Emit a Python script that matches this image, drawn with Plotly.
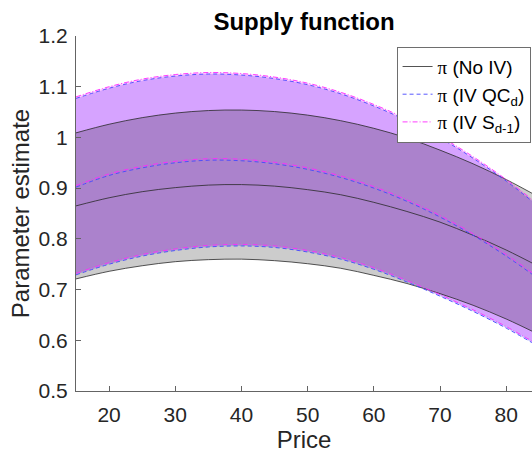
import plotly.graph_objects as go

price = [15, 20, 25, 30, 35, 40, 45, 50, 55, 60, 65, 70, 75, 80, 85]

# No IV
noiv_mean = [0.865, 0.881, 0.893, 0.901, 0.906, 0.907, 0.904, 0.897, 0.887, 0.872, 0.854, 0.833, 0.807, 0.778, 0.745]
noiv_up   = [1.009, 1.026, 1.039, 1.048, 1.053, 1.054, 1.051, 1.044, 1.033, 1.018, 0.999, 0.975, 0.948, 0.917, 0.882]
noiv_lo   = [0.721, 0.736, 0.747, 0.755, 0.759, 0.760, 0.757, 0.751, 0.742, 0.728, 0.712, 0.692, 0.669, 0.642, 0.611]

# IV QC_d
qc_mean = [0.902, 0.925, 0.940, 0.950, 0.955, 0.954, 0.948, 0.937, 0.921, 0.900, 0.874, 0.843, 0.807, 0.766, 0.720]
qc_up   = [1.077, 1.097, 1.112, 1.121, 1.125, 1.123, 1.116, 1.104, 1.086, 1.062, 1.033, 0.999, 0.959, 0.914, 0.863]
qc_lo   = [0.729, 0.750, 0.766, 0.777, 0.784, 0.786, 0.783, 0.774, 0.760, 0.740, 0.715, 0.687, 0.657, 0.624, 0.587]

# IV S_{d-1}
s_mean = [0.905, 0.928, 0.943, 0.953, 0.958, 0.957, 0.951, 0.940, 0.924, 0.903, 0.877, 0.846, 0.810, 0.769, 0.723]
s_up   = [1.080, 1.100, 1.115, 1.124, 1.128, 1.126, 1.119, 1.107, 1.089, 1.065, 1.036, 1.002, 0.962, 0.917, 0.866]
s_lo   = [0.732, 0.753, 0.769, 0.780, 0.787, 0.789, 0.786, 0.777, 0.763, 0.743, 0.718, 0.690, 0.660, 0.627, 0.590]

y_ticks = [0.5, 0.6, 0.7, 0.8, 0.9, 1.0, 1.1, 1.2]
y_ticklabels = ["0.5", "0.6", "0.7", "0.8", "0.9", "1", "1.1", "1.2"]
x_ticks = [20, 30, 40, 50, 60, 70, 80]

BLACK = "rgb(40,40,40)"
BLUE = "rgb(70,70,255)"
MAG = "rgb(255,40,255)"

fig = go.Figure()

def band(lo, up, fill):
    fig.add_trace(go.Scatter(x=price, y=lo, mode="lines", line=dict(width=0, shape="spline"),
                             showlegend=False, hoverinfo="skip"))
    fig.add_trace(go.Scatter(x=price, y=up, mode="lines", line=dict(width=0, shape="spline"),
                             fill="tonexty", fillcolor=fill, showlegend=False, hoverinfo="skip"))

band(qc_lo, qc_up, "rgba(0,0,255,0.2)")
band(s_lo, s_up, "rgba(255,0,255,0.2)")
band(noiv_lo, noiv_up, "rgba(0,0,0,0.2)")

def lines(vals, color, dash, name, width):
    for i, v in enumerate(vals):
        fig.add_trace(go.Scatter(x=price, y=v, mode="lines",
                                 line=dict(color=color, dash=dash, width=width, shape="spline"),
                                 name=name, showlegend=(i == 0), hoverinfo="skip"))

PI = "<span style='font-family:Liberation Serif'>π</span>"
lines([noiv_mean, noiv_up, noiv_lo], BLACK, "solid", PI + " (No IV)", 0.8)
lines([qc_mean, qc_up, qc_lo], BLUE, "4px,3px", PI + " (IV QC<sub>d</sub>)", 0.9)
lines([s_mean, s_up, s_lo], MAG, "5px,2px,1px,2px", PI + " (IV S<sub>d-1</sub>)", 0.9)

fig.update_layout(
    width=532, height=454,
    margin=dict(l=76, r=0, t=36, b=63),
    paper_bgcolor="white", plot_bgcolor="white",
    font=dict(family="Liberation Sans, Arial, sans-serif", color="rgb(38,38,38)", size=21),
    title=dict(text="<b>Supply function</b>", x=0.5715, xanchor="center", y=0.953, yanchor="middle",
               font=dict(size=24, color="black")),
    legend=dict(x=0.703, y=0.97, xanchor="left", yanchor="top", traceorder="normal",
                bgcolor="white", bordercolor="rgb(110,110,110)", borderwidth=1,
                itemwidth=30,
                font=dict(size=19, color="black"), tracegroupgap=0),
    showlegend=True,
)
fig.update_xaxes(range=[15, 83.9], tickvals=x_ticks, ticks="inside", ticklen=5,
                 tickcolor="rgb(100,100,100)", showline=True, linecolor="rgb(100,100,100)",
                 linewidth=1, showgrid=False, zeroline=False, mirror=False,
                 ticklabelstandoff=5,
                 title=dict(text="Price", font=dict(size=24), standoff=3))
fig.update_yaxes(range=[0.5, 1.2], tickvals=y_ticks, ticktext=y_ticklabels, ticks="inside", ticklen=5,
                 tickcolor="rgb(100,100,100)", showline=True, linecolor="rgb(100,100,100)",
                 linewidth=1, showgrid=False, zeroline=False, mirror=False,
                 ticklabelstandoff=3,
                 title=dict(text="Parameter estimate", font=dict(size=24), standoff=2))

fig.write_html("out.html")
